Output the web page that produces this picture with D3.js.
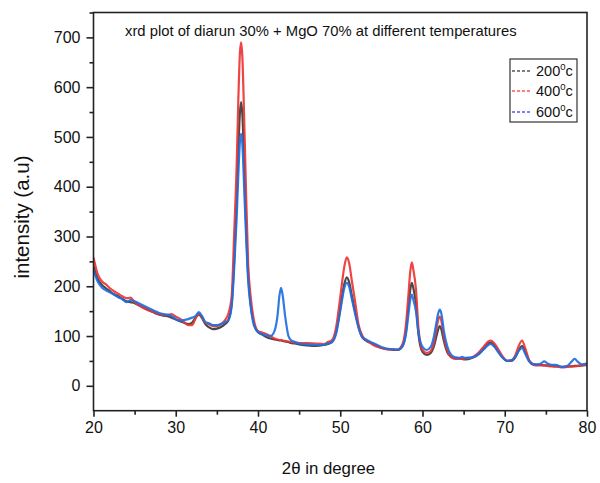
<!DOCTYPE html>
<html>
<head>
<meta charset="utf-8">
<script src="https://cdn.jsdelivr.net/npm/d3@7"></script>
<style>
  html, body { margin: 0; padding: 0; background: #fff; }
  svg { display: block; font-family: "Liberation Sans", Arial, sans-serif; }
</style>
</head>
<body>
<svg id="chart" width="600" height="483"></svg>
<script>
// ---- data ----
const twoTheta = [
  20, 20.5, 21, 21.5, 22, 22.5, 23, 23.5, 24, 24.5, 25, 25.5, 26, 26.5, 27, 27.5, 28, 28.5, 29, 29.5,
  30, 30.5, 31, 31.5, 32, 32.4, 32.8, 33.2, 33.6, 34, 34.5, 35, 35.5, 36, 36.4, 36.8, 37.1, 37.4, 37.6, 37.8,
  37.95, 38.1, 38.3, 38.5, 38.8, 39.1, 39.5, 40, 40.5, 41, 41.5, 42, 42.4, 42.6, 42.8, 43.0, 43.3, 43.7, 44, 44.5,
  45, 46, 47, 48, 48.5, 49, 49.5, 49.9, 50.2, 50.5, 50.8, 51.1, 51.4, 51.8, 52.2, 52.7, 53.2, 54, 55, 56,
  57, 57.6, 58, 58.3, 58.5, 58.7, 58.9, 59.2, 59.5, 60, 60.5, 61, 61.4, 61.7, 61.9, 62.1, 62.3, 62.6, 63, 63.5,
  64, 64.5, 64.8, 65.2, 66, 66.5, 67, 67.5, 68, 68.3, 68.7, 69.2, 69.7, 70.3, 70.8, 71.3, 71.7, 72.1, 72.5, 73,
  73.5, 74, 74.4, 74.8, 75.2, 75.7, 76.2, 77, 77.6, 78.1, 78.5, 78.9, 79.4, 80
];
const series200 = [
  240, 215, 203, 196, 190, 184, 180, 175, 170, 168, 166, 162, 158, 154, 150, 146, 143, 141, 140, 137,
  133, 130, 127, 124, 127, 137, 143, 136, 124, 118, 114, 115, 118, 124, 132, 165, 250, 370, 470, 548,
  570, 545, 455, 350, 225, 165, 125, 108, 103, 98, 95, 93, 92, 91, 91, 90, 89, 88, 86, 85,
  83, 81, 80, 82, 84, 88, 108, 145, 178, 205, 218, 207, 182, 150, 120, 97, 90, 84, 76, 73,
  72, 82, 110, 160, 192, 207, 195, 165, 105, 68, 62, 66, 80, 100, 113, 120, 113, 90, 68, 58,
  55, 55, 54, 53, 56, 60, 66, 76, 85, 87, 82, 70, 58, 50, 50, 58, 72, 80, 68, 50,
  43, 42, 42, 41, 41, 40, 39, 38, 39, 39, 40, 40, 41, 42
];
const series400 = [
  258, 225, 210, 204, 196, 190, 185, 180, 176, 177, 168, 162, 157, 153, 150, 147, 144, 142, 142, 144,
  139, 135, 128, 122, 122, 135, 145, 138, 127, 124, 120, 120, 124, 132, 145, 180, 305, 440, 570, 668,
  690, 660, 550, 420, 246, 180, 132, 110, 107, 104, 100, 95, 93, 92, 92, 91, 90, 89, 88, 87,
  86, 86, 85, 84, 88, 92, 118, 165, 205, 240, 258, 245, 212, 170, 125, 100, 92, 82, 76, 73,
  73, 85, 125, 185, 228, 248, 232, 195, 118, 72, 66, 70, 88, 115, 132, 139, 130, 100, 72, 57,
  54, 54, 54, 55, 57, 62, 70, 80, 89, 91, 86, 74, 60, 50, 51, 62, 80, 91, 75, 50,
  42, 41, 41, 41, 40, 39, 39, 37, 38, 39, 39, 40, 41, 42
];
const series600 = [
  232, 210, 198, 192, 188, 183, 178, 174, 168, 172, 170, 166, 162, 158, 154, 150, 146, 144, 143, 140,
  134, 131, 132, 134, 137, 140, 148, 140, 128, 126, 122, 122, 124, 128, 132, 160, 235, 335, 420, 490,
  506, 485, 405, 320, 212, 160, 122, 108, 104, 101, 100, 110, 145, 180, 197, 182, 140, 100, 92, 88,
  85, 83, 82, 82, 85, 88, 105, 140, 170, 197, 207, 198, 175, 145, 118, 97, 92, 86, 78, 74,
  73, 80, 105, 145, 172, 183, 172, 150, 108, 78, 72, 78, 100, 128, 145, 153, 145, 110, 80, 62,
  57, 56, 58, 56, 57, 60, 66, 74, 82, 84, 79, 68, 57, 50, 51, 58, 70, 76, 64, 48,
  43, 43, 45, 49, 45, 42, 42, 38, 40, 48, 54, 48, 43, 45
];
const seriesNames = ["200", "400", "600"];
const xTicks = [20, 30, 40, 50, 60, 70, 80];
const yTicks = [0, 100, 200, 300, 400, 500, 600, 700];

// ---- layout ----
const svg = d3.select("#chart");
const L = 93.5, R = 587, T = 12.5, B = 410.7;
const x = d3.scaleLinear().domain([20, 80]).range([L, R]);
const y = d3.scaleLinear().domain([-50, 750]).range([B, T]);

const colors = ["#3a3a3a", "#ee3434", "#1f6fe0"];
const legendColors = ["#000000", "#ff0000", "#0000ff"];
const allSeries = [series200, series400, series600];

// curves
const line = d3.line()
  .x(d => x(d[0]))
  .y(d => y(d[1]))
  .curve(d3.curveMonotoneX);

svg.append("clipPath").attr("id", "clip")
  .append("rect").attr("x", L).attr("y", T).attr("width", R - L).attr("height", B - T);

const g = svg.append("g").attr("clip-path", "url(#clip)");
allSeries.forEach((s, i) => {
  g.append("path")
    .datum(twoTheta.map((t, k) => [t, s[k]]))
    .attr("fill", "none")
    .attr("stroke", colors[i])
    .attr("stroke-width", 2.2)
    .attr("stroke-opacity", 0.92)
    .attr("stroke-linejoin", "round")
    .attr("d", line);
});

// frame
svg.append("rect")
  .attr("x", L).attr("y", T).attr("width", R - L).attr("height", B - T)
  .attr("fill", "none").attr("stroke", "#222").attr("stroke-width", 1.6);

// axes
const xAxis = d3.axisBottom(x).tickValues(xTicks).tickFormat(d3.format("d")).tickSize(6).tickPadding(5);
const xMinor = d3.axisBottom(x).tickValues([25, 35, 45, 55, 65, 75]).tickFormat("").tickSize(4);
const yAxis = d3.axisLeft(y).tickValues(yTicks).tickFormat(d3.format("d")).tickSize(7).tickPadding(6);
const yMinor = d3.axisLeft(y).tickValues([50, 150, 250, 350, 450, 550, 650, 750]).tickFormat("").tickSize(4);

function styleAxis(sel) {
  sel.select(".domain").remove();
  sel.selectAll("line").attr("stroke", "#222").attr("stroke-width", 1.6);
  sel.selectAll("text").attr("fill", "#111").style("font-size", "16px")
    .style("font-family", "'Liberation Sans', Arial, sans-serif");
}
svg.append("g").attr("transform", `translate(0,${B})`).call(xAxis).call(styleAxis);
svg.append("g").attr("transform", `translate(0,${B})`).call(xMinor).call(styleAxis);
svg.append("g").attr("transform", `translate(${L},0)`).call(yAxis).call(styleAxis);
svg.append("g").attr("transform", `translate(${L},0)`).call(yMinor).call(styleAxis);

// title
svg.append("text")
  .attr("x", 125).attr("y", 36)
  .style("font-size", "14.8px").attr("fill", "#111")
  .text("xrd plot of diarun 30% + MgO 70% at different temperatures");

// axis labels
svg.append("text")
  .attr("x", 328.5).attr("y", 474)
  .attr("text-anchor", "middle")
  .style("font-size", "16.8px").attr("fill", "#111")
  .text("2θ in degree");

svg.append("text")
  .attr("transform", "translate(29,217) rotate(-90)")
  .attr("text-anchor", "middle")
  .style("font-size", "20.5px").attr("fill", "#111")
  .text("intensity (a.u)");

// legend
const lg = svg.append("g");
lg.append("rect").attr("x", 510).attr("y", 59).attr("width", 67).attr("height", 63)
  .attr("fill", "#fff").attr("stroke", "#333").attr("stroke-width", 1.2);
const rowY = [71, 91, 112];
seriesNames.forEach((name, i) => {
  lg.append("line")
    .attr("x1", 512).attr("x2", 531)
    .attr("y1", rowY[i]).attr("y2", rowY[i])
    .attr("stroke", legendColors[i]).attr("stroke-width", 1.2)
    .attr("stroke-dasharray", "3,2");
  const t = lg.append("text").attr("x", 536).attr("y", rowY[i] + 5)
    .style("font-size", "14.5px").attr("fill", "#111");
  t.append("tspan").text(name);
  t.append("tspan").attr("dy", -6).style("font-size", "9.5px").text("0");
  t.append("tspan").attr("dy", 6).text("c");
});
</script>
</body>
</html>
